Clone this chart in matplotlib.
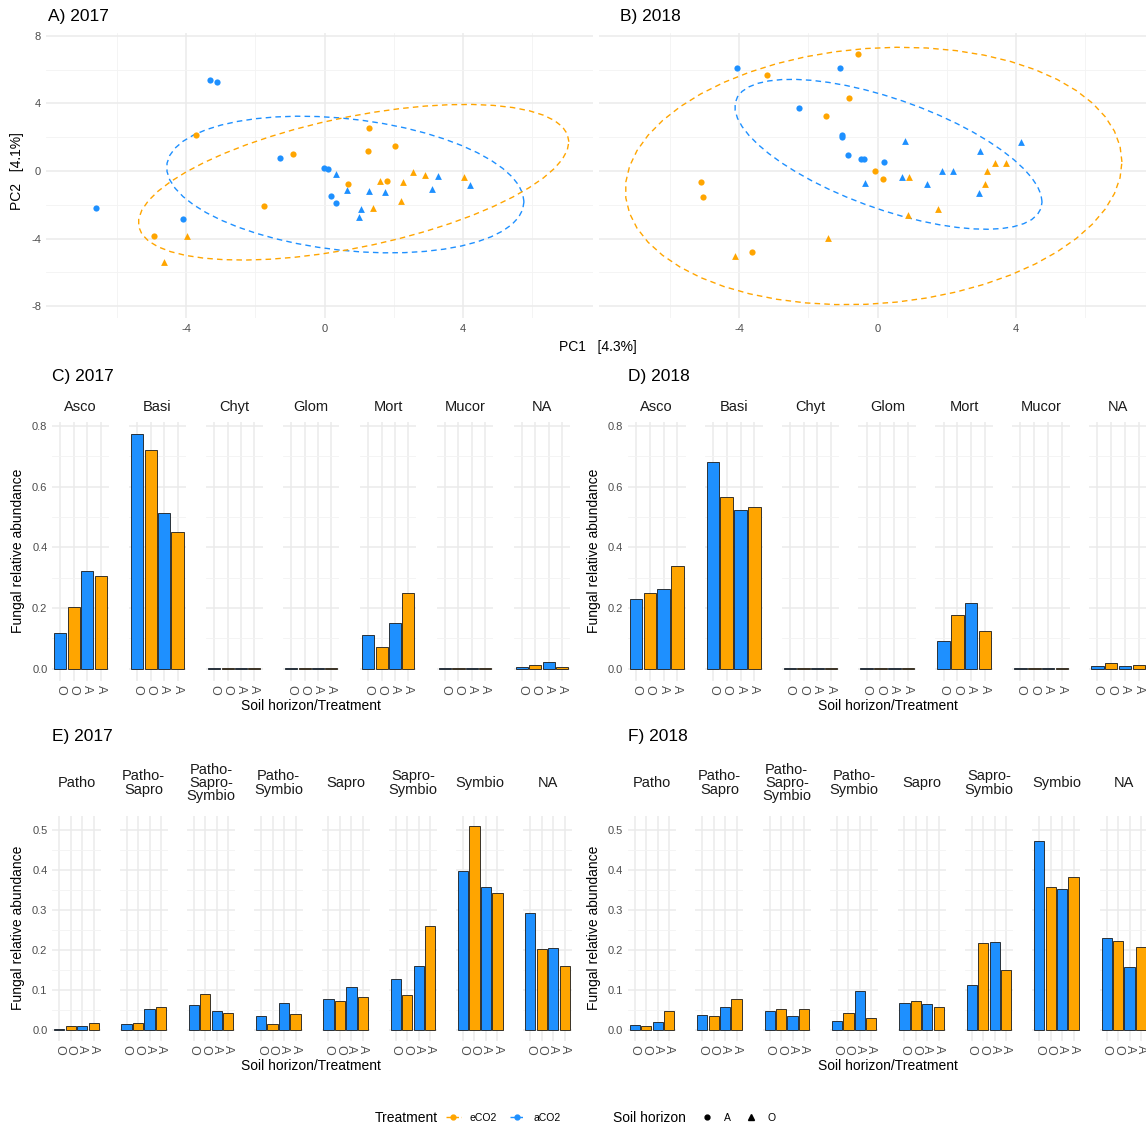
import numpy as np
import matplotlib.pyplot as plt
from matplotlib.lines import Line2D
from matplotlib.ticker import MultipleLocator, FixedLocator

plt.rcParams['font.family'] = ['Liberation Sans', 'DejaVu Sans']
plt.rcParams['axes.unicode_minus'] = False

BLUE = '#1E90FF'
ORANGE = '#FFA500'
GRID = '#EBEBEB'
GRID_MINOR = '#F3F3F3'
TICK = '#4D4D4D'
W, H = 1146, 1126

# PCA scores (2017)
pc1_17_amb_A = [-3.30, -3.11, -6.62, -4.10, -1.30, -0.03, 0.10, 0.19, 0.32]
pc2_17_amb_A = [5.40, 5.24, -2.19, -2.86, 0.77, 0.20, 0.10, -1.50, -1.87]
pc1_17_amb_O = [0.34, 0.65, 1.28, 1.75, 1.06, 0.98, 3.27, 3.09, 4.19]
pc2_17_amb_O = [-0.20, -1.14, -1.20, -1.24, -2.25, -2.74, -0.30, -1.06, -0.81]
pc1_17_ele_A = [-3.71, -0.92, 1.28, 1.25, 2.03, 0.68, 1.80, -1.74, -4.93]
pc2_17_ele_A = [2.11, 1.02, 2.54, 1.20, 1.50, -0.75, -0.61, -2.09, -3.86]
pc1_17_ele_O = [1.61, 2.26, 2.56, 2.89, 4.02, 2.20, 1.39, -3.99, -4.63]
pc2_17_ele_O = [-0.57, -0.65, -0.04, -0.24, -0.37, -1.75, -2.17, -3.82, -5.38]

# PCA scores (2018)
pc1_18_amb_A = [-4.05, -1.09, -2.26, -1.03, -1.02, -0.87, -0.48, -0.40, 0.18]
pc2_18_amb_A = [6.11, 6.07, 3.71, 2.14, 2.04, 0.92, 0.69, 0.69, 0.51]
pc1_18_amb_O = [-0.38, 0.79, 0.71, 1.42, 1.86, 2.18, 2.96, 2.94, 4.15]
pc2_18_amb_O = [-0.73, 1.79, -0.37, -0.79, 0.0, 0.0, 1.20, -1.30, 1.71]
pc1_18_ele_A = [-0.58, -3.21, -0.84, -1.50, -0.07, 0.14, -5.10, -5.04, -3.63]
pc2_18_ele_A = [6.92, 5.66, 4.34, 3.24, 0.02, -0.47, -0.67, -1.55, -4.79]
pc1_18_ele_O = [0.89, 1.73, 0.88, -1.43, -4.11, 3.15, 3.39, 3.71, 3.11]
pc2_18_ele_O = [-0.37, -2.26, -2.59, -3.99, -5.01, 0.02, 0.49, 0.49, -0.79]

# relative abundance, bars per facet: O-aCO2, O-eCO2, A-aCO2, A-eCO2
horizon_ticks = ['O', 'O', 'A', 'A']
bar_colors = [BLUE, ORANGE, BLUE, ORANGE]

phyla = ['Asco', 'Basi', 'Chyt', 'Glom', 'Mort', 'Mucor', 'NA']
phyla_2017 = [[0.116, 0.202, 0.323, 0.307],
              [0.775, 0.722, 0.513, 0.449],
              [0.002, 0.002, 0.002, 0.002],
              [0.002, 0.002, 0.002, 0.003],
              [0.110, 0.070, 0.152, 0.248],
              [0.002, 0.002, 0.002, 0.002],
              [0.005, 0.012, 0.021, 0.005]]
phyla_2018 = [[0.229, 0.248, 0.263, 0.340],
              [0.682, 0.566, 0.523, 0.534],
              [0.002, 0.002, 0.002, 0.003],
              [0.002, 0.002, 0.002, 0.002],
              [0.090, 0.178, 0.216, 0.125],
              [0.002, 0.002, 0.002, 0.002],
              [0.009, 0.019, 0.009, 0.012]]

guilds = ['Patho', 'Patho-\nSapro', 'Patho-\nSapro-\nSymbio', 'Patho-\nSymbio',
          'Sapro', 'Sapro-\nSymbio', 'Symbio', 'NA']
guilds_2017 = [[0.004, 0.011, 0.011, 0.018],
               [0.015, 0.018, 0.052, 0.059],
               [0.063, 0.090, 0.047, 0.043],
               [0.035, 0.015, 0.068, 0.041],
               [0.077, 0.073, 0.108, 0.083],
               [0.127, 0.088, 0.160, 0.261],
               [0.399, 0.511, 0.358, 0.342],
               [0.293, 0.203, 0.205, 0.160]]
guilds_2018 = [[0.012, 0.010, 0.020, 0.047],
               [0.037, 0.035, 0.057, 0.077],
               [0.047, 0.053, 0.036, 0.054],
               [0.024, 0.042, 0.098, 0.030],
               [0.069, 0.072, 0.066, 0.059],
               [0.114, 0.218, 0.221, 0.150],
               [0.474, 0.358, 0.354, 0.384],
               [0.231, 0.223, 0.158, 0.209]]


def px(l, t, r, b):
    return [l / W, 1 - b / H, (r - l) / W, (b - t) / H]


def fpos(x, y):
    return x / W, 1 - y / H


def cov_trob(x, nu=5, maxit=25, tol=0.01):
    # multivariate t estimate like MASS::cov.trob (used by stat_ellipse)
    n, p = x.shape
    wt = np.ones(n)
    loc = x.mean(axis=0)
    w = np.sqrt(wt)
    for _ in range(maxit):
        w0 = w
        X = x - loc
        _, d, vt = np.linalg.svd(np.sqrt(w / w.sum())[:, None] * X, full_matrices=False)
        wX = X @ vt.T @ np.diag(1 / d)
        Q = (wX ** 2).sum(axis=1)
        w = wt * (nu + p) / (nu + Q)
        loc = (w[:, None] * x).sum(axis=0) / w.sum()
        if np.all(np.abs(w - w0) < tol):
            break
    sX = np.sqrt(w)[:, None] * X
    return loc, sX.T @ sX / wt.sum()


def ellipse(xs, ys, level=0.95, segments=51):
    pts = np.column_stack([xs, ys])
    center, shape = cov_trob(pts)
    dfd = len(pts) - 1
    fq = dfd / 2 * ((1 - level) ** (-2 / dfd) - 1)   # qf(level, 2, dfd)
    radius = np.sqrt(2 * fq)
    ang = np.linspace(0, 2 * np.pi, segments + 1)
    circ = np.column_stack([np.cos(ang), np.sin(ang)])
    L = np.linalg.cholesky(shape)
    e = center + radius * circ @ L.T
    return e[:, 0], e[:, 1]


def style_grid(ax, labelsize=8):
    ax.grid(which='major', color=GRID, lw=1.1, zorder=0)
    ax.grid(which='minor', color=GRID_MINOR, lw=0.6, zorder=0)
    ax.set_axisbelow(True)
    ax.tick_params(which='both', length=0, labelsize=labelsize, labelcolor=TICK)
    for s in ax.spines.values():
        s.set_visible(False)


fig = plt.figure(figsize=(W / 100, H / 100), dpi=100)

# ---- PCA panels
pca_sets = [
    (px(46, 33, 593, 318), 'A) 2017', 48,
     [(pc1_17_amb_A, pc2_17_amb_A, pc1_17_amb_O, pc2_17_amb_O, BLUE),
      (pc1_17_ele_A, pc2_17_ele_A, pc1_17_ele_O, pc2_17_ele_O, ORANGE)]),
    (px(599, 33, 1146, 318), 'B) 2018', 620,
     [(pc1_18_amb_A, pc2_18_amb_A, pc1_18_amb_O, pc2_18_amb_O, BLUE),
      (pc1_18_ele_A, pc2_18_ele_A, pc1_18_ele_O, pc2_18_ele_O, ORANGE)]),
]
for k, (rect, title, tx, groups) in enumerate(pca_sets):
    ax = fig.add_axes(rect)
    for xa, ya, xo, yo, col in groups:
        ax.scatter(xa, ya, s=20, marker='o', color=col, linewidths=0, zorder=3)
        ax.scatter(xo, yo, s=24, marker='^', color=col, linewidths=0, zorder=3)
        ex, ey = ellipse(xa + xo, ya + yo)
        ax.plot(ex, ey, color=col, lw=1.0, ls=(0, (4, 3)), zorder=2)
    ax.set_xlim(-8.05, 7.75)
    ax.set_ylim(-8.7, 8.17)
    ax.xaxis.set_major_locator(FixedLocator([-4, 0, 4]))
    ax.xaxis.set_minor_locator(FixedLocator([-6, -2, 2, 6]))
    ax.yaxis.set_major_locator(FixedLocator([-8, -4, 0, 4, 8]))
    ax.yaxis.set_minor_locator(FixedLocator([-6, -2, 2, 6]))
    style_grid(ax)
    ax.tick_params(axis='x', pad=4)
    if k == 1:
        ax.tick_params(labelleft=False)
    fig.text(*fpos(tx, 17), title, fontsize=12.5, ha='left', va='center')

fig.text(*fpos(598, 347), 'PC1   [4.3%]', fontsize=10, ha='center', va='center')
fig.text(*fpos(17, 171), 'PC2   [4.1%]', fontsize=10, ha='center', va='center', rotation=90)


# ---- bar panels
def bar_panel(left0, step, width, top, bottom, names, values, ylim, major, minor,
              strip_y, title, title_x, title_y, ylab_x, xlab_x, xlab_y):
    for i, (name, vals) in enumerate(zip(names, values)):
        l = left0 + i * step
        ax = fig.add_axes(px(l, top, l + width, bottom))
        ax.bar(range(1, 5), vals, width=0.9, color=bar_colors,
               edgecolor='#1A1A1A', linewidth=0.6, zorder=3)
        ax.set_xlim(0.4, 4.6)
        ax.set_ylim(*ylim)
        ax.set_xticks(range(1, 5))
        ax.set_xticklabels(horizon_ticks, rotation=270)
        ax.yaxis.set_major_locator(MultipleLocator(major))
        ax.yaxis.set_minor_locator(MultipleLocator(minor))
        style_grid(ax)
        ax.tick_params(axis='x', labelsize=9, pad=3)
        ax.grid(which='minor', axis='x', visible=False)
        if i > 0:
            ax.tick_params(labelleft=False)
        fig.text(*fpos(l + width / 2, strip_y), name, fontsize=10.5, ha='center',
                 va='center', linespacing=0.95, color='#1A1A1A')
    fig.text(*fpos(title_x, title_y), title, fontsize=12.5, ha='left', va='center')
    fig.text(*fpos(ylab_x, (top + bottom) / 2), 'Fungal relative abundance',
             fontsize=10, ha='center', va='center', rotation=90)
    fig.text(*fpos(xlab_x, xlab_y), 'Soil horizon/Treatment', fontsize=10,
             ha='center', va='center')


bar_panel(52.3, 76.95, 56.3, 421.8, 680.5, phyla, phyla_2017, (-0.039, 0.814), 0.2, 0.1,
          407, 'C) 2017', 52, 377, 18, 311, 706)
bar_panel(627.7, 76.9, 58.0, 421.8, 680.5, phyla, phyla_2018, (-0.039, 0.814), 0.2, 0.1,
          407, 'D) 2018', 628, 377, 594, 888, 706)
bar_panel(52.3, 67.3, 48.3, 815.5, 1040.5, guilds, guilds_2017, (-0.0256, 0.537), 0.1, 0.05,
          783, 'E) 2017', 52, 737, 18, 311, 1066)
bar_panel(628.0, 67.4, 48.0, 815.5, 1040.5, guilds, guilds_2018, (-0.0256, 0.537), 0.1, 0.05,
          783, 'F) 2018', 628, 737, 594, 888, 1066)

# ---- legend
treat_handles = [Line2D([0], [0], color=ORANGE, ls='--', lw=1, marker='o', ms=3.5),
                 Line2D([0], [0], color=BLUE, ls='--', lw=1, marker='o', ms=3.5)]
fig.text(*fpos(375, 1118), 'Treatment', fontsize=10, ha='left', va='center')
fig.legend(handles=treat_handles, labels=['eCO2', 'aCO2'], loc='center left',
           bbox_to_anchor=fpos(446, 1118), ncol=2, frameon=False, fontsize=7.5,
           handlelength=1.4, handletextpad=0.9, columnspacing=1.2,
           borderaxespad=0, borderpad=0)
horizon_handles = [Line2D([0], [0], color='black', ls='none', marker='o', ms=3.5),
                   Line2D([0], [0], color='black', ls='none', marker='^', ms=4)]
fig.text(*fpos(613, 1118), 'Soil horizon', fontsize=10, ha='left', va='center')
fig.legend(handles=horizon_handles, labels=['A', 'O'], loc='center left',
           bbox_to_anchor=fpos(700, 1118), ncol=2, frameon=False, fontsize=7.5,
           handlelength=1.4, handletextpad=0.9, columnspacing=1.2,
           borderaxespad=0, borderpad=0)

fig.savefig('out.png', dpi=100)
